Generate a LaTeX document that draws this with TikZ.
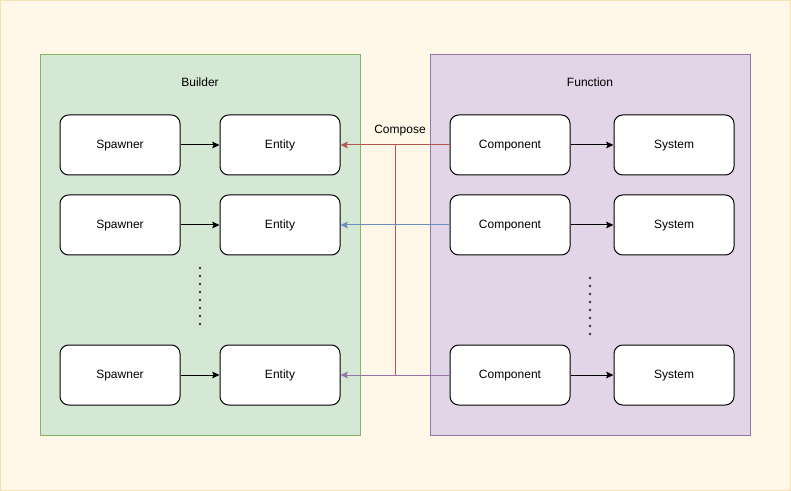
\documentclass[tikz,border=0pt]{standalone}
\usepackage{fontspec}
\setmainfont{Liberation Sans}
\usetikzlibrary{arrows.meta}
\definecolor{bgfill}{HTML}{FFF8E9}
\definecolor{bgdraw}{HTML}{F2E2B3}
\definecolor{gfill}{HTML}{D5E8D4}
\definecolor{gdraw}{HTML}{82B366}
\definecolor{pfill}{HTML}{E1D5E7}
\definecolor{pdraw}{HTML}{9673A6}
\definecolor{rline}{HTML}{B85450}
\definecolor{bline}{HTML}{6C8EBF}
\tikzset{
  px/.style={x=0.75pt,y=-0.75pt},
  box/.style={draw=black,fill=white,rounded corners=6.5pt,line width=0.75pt,minimum width=90pt,minimum height=45pt,inner sep=0pt,font=\fontsize{9}{11}\selectfont,text height=6.6pt,text depth=1.6pt},
  lbl/.style={font=\fontsize{9}{11}\selectfont,inner sep=0pt,text height=6.6pt,text depth=1.6pt},
  arr/.style={line width=0.75pt,-{Stealth[length=5.5pt,width=5pt,inset=1pt]}},
  dotcol/.style={fill=black!80}
}
\begin{document}
\begin{tikzpicture}[px]
\path[use as bounding box,fill=bgfill,draw=bgdraw,line width=0.75pt] (0.5,0.5) rectangle (790.5,490.5);
% panels
\node[draw=gdraw,fill=gfill,line width=0.75pt,minimum width=240pt,minimum height=285pt,inner sep=0pt] (builder) at (200,245) {};
\node[draw=pdraw,fill=pfill,line width=0.75pt,minimum width=240pt,minimum height=285pt,inner sep=0pt] (function) at (590,245) {};
\node[lbl] (tb) at (200,83) {Builder};
\node[lbl] (tf) at (590,83) {Function};
% boxes
\foreach \i/\y in {1/145,2/225,3/375}{
  \node[box] (s\i) at (120,\y) {Spawner};
  \node[box] (e\i) at (280,\y) {Entity};
  \node[box] (c\i) at (510,\y) {Component};
  \node[box] (y\i) at (674,\y) {System};
  \draw[arr] (s\i) -- (e\i);
  \draw[arr] (c\i) -- (y\i);
}
% compose
\coordinate (vt) at (395,145);
\coordinate (vb) at (395,375);
\draw[line width=0.75pt,rline] (vt) -- (vb);
\draw[arr,rline] (c1) -- (e1);
\draw[arr,bline] (c2) -- (e2);
\draw[arr,pdraw] (c3) -- (e3);
\node[lbl] (comp) at (400,130) {Compose};
% dots
\foreach \k in {0,...,7}{
  \fill[dotcol] (200,268+8*\k) circle (1.1pt);
  \fill[dotcol] (590,278+8*\k) circle (1.1pt);
}
\end{tikzpicture}
\end{document}
